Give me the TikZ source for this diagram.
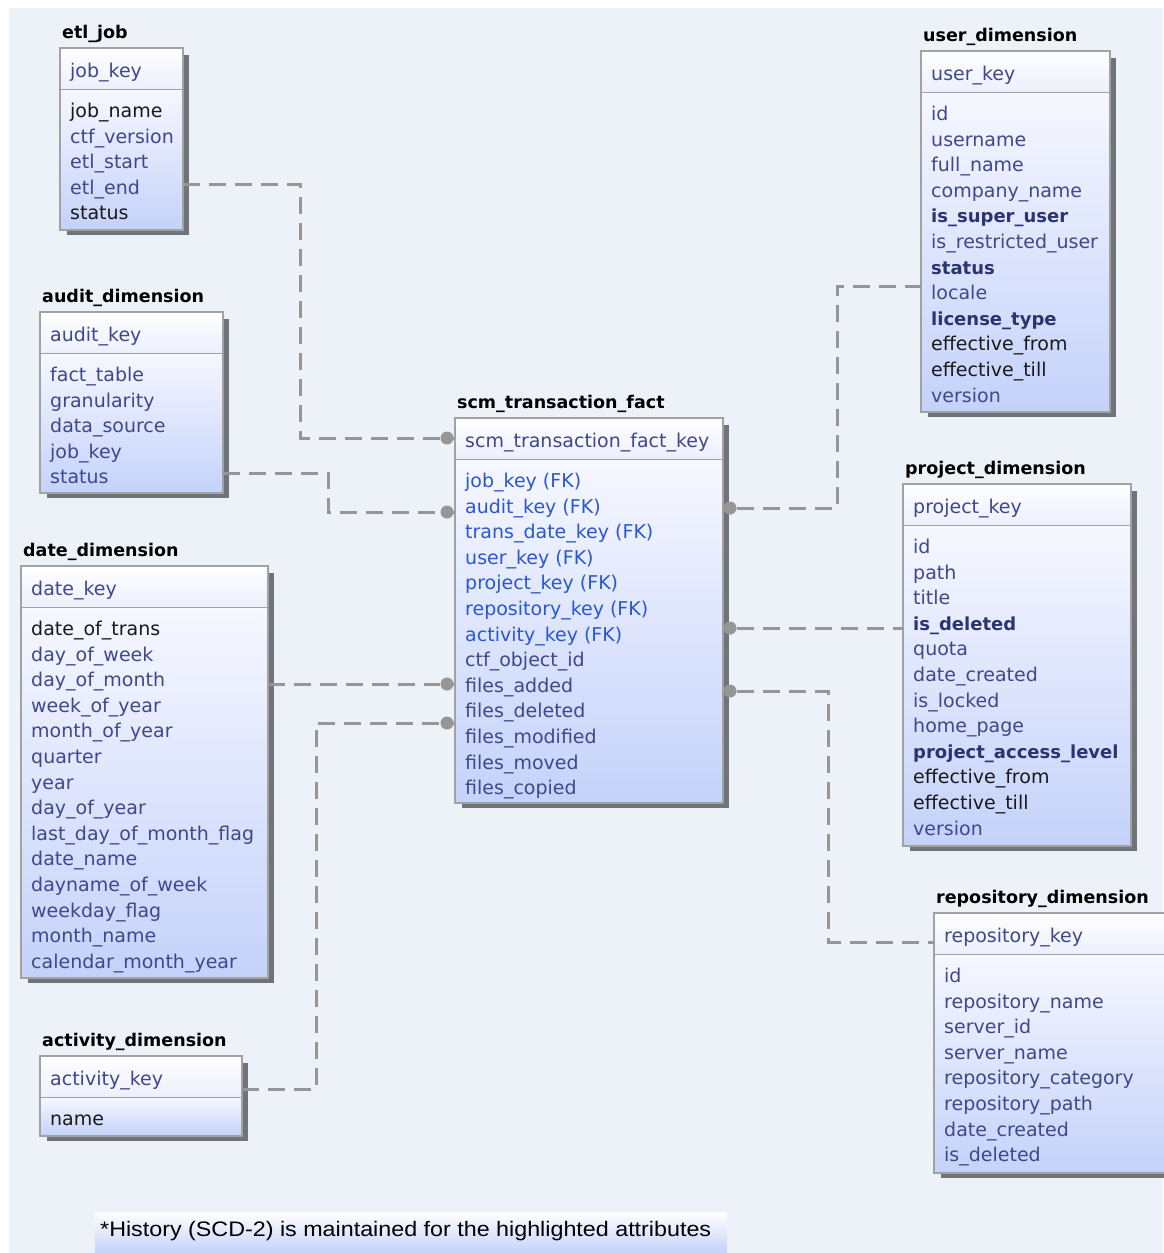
\documentclass[tikz,border=0pt]{standalone}
\usepackage{fontspec}
\usepackage{graphicx}
\setmainfont{DejaVu Sans}
\newfontfamily\notefont{Liberation Sans}
\usetikzlibrary{fit,calc}
\definecolor{bgc}{RGB}{237,242,249}
\definecolor{nvc}{RGB}{62,72,138}
\definecolor{fkc}{RGB}{40,88,210}
\definecolor{bkc}{RGB}{25,25,25}
\definecolor{hbc}{RGB}{42,52,112}
\definecolor{brc}{RGB}{162,162,162}
\definecolor{shc}{RGB}{112,115,122}
\definecolor{bodytop}{RGB}{246,247,255}
\definecolor{bodybot}{RGB}{196,210,250}
\definecolor{headbot}{RGB}{236,239,252}
\definecolor{cnc}{RGB}{150,150,150}
\newcommand\rowblack{\color{bkc}}
\newcommand\rowfk{\color{fkc}}
\newcommand\rowhl{\color{hbc}\fontsize{18}{22}\selectfont\bfseries}
\tikzset{
 rowtxt/.style={anchor=base west, inner sep=0pt, text=nvc, font=\fontsize{19}{22}\selectfont},
 ttl/.style={anchor=base west, inner sep=0pt, font=\fontsize{17.5}{20}\selectfont\bfseries, text=black},
 tblframe/.style={draw=brc, line width=1.5pt, inner sep=0pt},
 conn/.style={draw=cnc, line width=3pt, dash pattern=on 17pt off 9pt},
 stub/.style={draw=cnc, line width=3pt},
 fdot/.style={circle, fill=cnc, inner sep=0pt, minimum size=13pt},
}
% #1 name #2 title #3 left #4 top #5 right #6 bottom #7 key #8 rows
\newcommand\ertable[8]{%
 \fill[shc] (#3+7,#4+7) rectangle (#5+6,#6+5);
 \shade[top color=bodytop, bottom color=bodybot] (#3,#4+41.5) rectangle (#5,#6);
 \shade[top color=white, bottom color=headbot] (#3,#4) rectangle (#5,#4+41.5);
 \draw[brc, line width=1.5pt] (#3,#4+41.5) -- (#5,#4+41.5);
 \node[tblframe, fit={(#3,#4) (#5,#6)}] (#1) {};
 \node[ttl] (#1-title) at (#3+2,#4-10) {#2};
 \node[rowtxt] (#1-key) at (#3+10,#4+29.5) {#7};
 \foreach \t [count=\i] in {#8} {
   \node[rowtxt] (#1-\i) at (#3+10,#4+69.5+25.6*\i-25.6) {\t};
 }
}
\begin{document}
\begin{tikzpicture}[x=1pt,y=-1pt]
\useasboundingbox (0,0) rectangle (1163,1253);
\fill[white] (0,0) rectangle (1163,1253);
\fill[bgc] (9,8) rectangle (1163,1253);

\ertable{etl}{etl\_job}{60}{48}{183}{230}{job\_key}{\rowblack job\_name,ctf\_version,etl\_start,etl\_end,\rowblack status}
\ertable{audit}{audit\_dimension}{40}{312}{223}{493}{audit\_key}{fact\_table,granularity,data\_source,job\_key,status}
\ertable{date}{date\_dimension}{21}{566}{268}{978}{date\_key}{\rowblack date\_of\_trans,day\_of\_week,day\_of\_month,week\_of\_year,month\_of\_year,quarter,year,day\_of\_year,last\_day\_of\_month\_flag,date\_name,dayname\_of\_week,weekday\_flag,month\_name,calendar\_month\_year}
\ertable{act}{activity\_dimension}{40}{1056}{242}{1136}{activity\_key}{\rowblack name}
\ertable{fact}{scm\_transaction\_fact}{455}{418}{723}{803}{scm\_transaction\_fact\_key}{\rowfk job\_key (FK),\rowfk audit\_key (FK),\rowfk trans\_date\_key (FK),\rowfk user\_key (FK),\rowfk project\_key (FK),\rowfk repository\_key (FK),\rowfk activity\_key (FK),ctf\_object\_id,files\_added,files\_deleted,files\_modified,files\_moved,files\_copied}
\ertable{user}{user\_dimension}{921}{51}{1110}{412}{user\_key}{id,username,full\_name,company\_name,\rowhl is\_super\_user,is\_restricted\_user,\rowhl status,locale,\rowhl license\_type,\rowblack effective\_from,\rowblack effective\_till,version}
\ertable{proj}{project\_dimension}{903}{484}{1131}{846}{project\_key}{id,path,title,\rowhl is\_deleted,quota,date\_created,is\_locked,home\_page,\rowhl project\_access\_level,\rowblack effective\_from,\rowblack effective\_till,version}
\ertable{repo}{repository\_dimension}{934}{913}{1180}{1173}{repository\_key}{id,repository\_name,server\_id,server\_name,repository\_category,repository\_path,date\_created,is\_deleted}

% ports
\coordinate (etlp) at (183,184);
\coordinate (auditp) at (223,473);
\coordinate (datep) at (268,684);
\coordinate (actp) at (242,1089);
\coordinate (userp) at (921,286);
\coordinate (projp) at (903,628);
\coordinate (repop) at (934,942);
% dots on fact table
\node[fdot] (fd1) at (447,438) {};
\node[fdot] (fd2) at (447,512) {};
\node[fdot] (fd3) at (447,684) {};
\node[fdot] (fd4) at (447,723) {};
\node[fdot] (fd5) at (730,508) {};
\node[fdot] (fd6) at (730,628) {};
\node[fdot] (fd7) at (730,691) {};
\foreach \d in {fd1,fd2,fd3,fd4} \draw[stub] (\d.center) -- (fact.west |- \d);
\foreach \d in {fd5,fd6,fd7} \draw[stub] (\d.center) -- (fact.east |- \d);

\draw[conn] (etlp) -- ++(117,0) |- (fd1);
\draw[conn] (auditp) -- ++(105,0) |- (fd2);
\draw[conn] (datep) -- (fd3);
\draw[conn] (actp) -- ++(74,0) |- (fd4);
\draw[conn] (fd5) -- ++(107,0) |- (userp);
\draw[conn] (fd6) -- (projp);
\draw[conn] (fd7) -- ++(98,0) |- (repop);

% footnote
\shade[top color=white, bottom color=bodybot] (95,1212) rectangle (727,1253);
\node[anchor=base west, inner sep=0pt, font=\notefont\fontsize{21}{24}\selectfont, text=black] (note) at (100,1236) {\resizebox{611pt}{\height}{*History (SCD-2) is maintained for the highlighted attributes}};
\end{tikzpicture}
\end{document}
